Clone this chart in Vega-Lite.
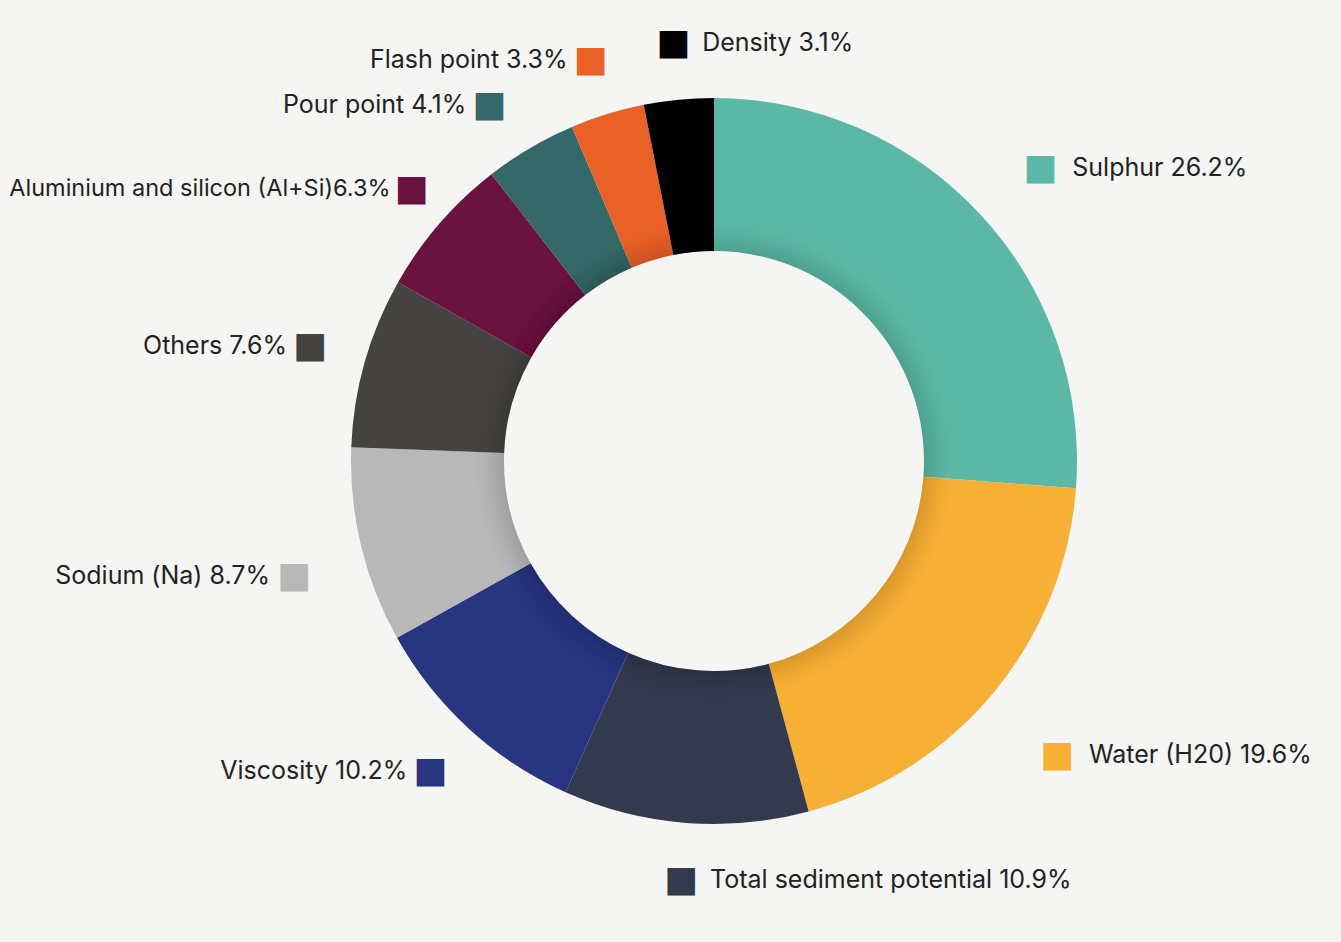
{
  "$schema": "https://vega.github.io/schema/vega-lite/v6.json",
  "width": 1254,
  "height": 922,
  "autosize": {"type": "none"},
  "padding": {"left": 87, "top": 0, "right": 0, "bottom": 20},
  "background": "#f5f5f3",
  "config": {"view": {"stroke": null}},
  "data": {"values": [
    {"name": "Sulphur", "value": 26.2, "label": "Sulphur 26.2%"},
    {"name": "Water (H20)", "value": 19.6, "label": "Water (H20) 19.6%"},
    {"name": "Total sediment potential", "value": 10.9, "label": "Total sediment potential 10.9%"},
    {"name": "Viscosity", "value": 10.2, "label": "Viscosity 10.2%"},
    {"name": "Sodium (Na)", "value": 8.7, "label": "Sodium (Na) 8.7%"},
    {"name": "Others", "value": 7.6, "label": "Others 7.6%"},
    {"name": "Aluminium and silicon (Al+Si)", "value": 6.3, "label": "Aluminium and silicon (Al+Si)6.3%"},
    {"name": "Pour point", "value": 4.1, "label": "Pour point 4.1%"},
    {"name": "Flash point", "value": 3.3, "label": "Flash point 3.3%"},
    {"name": "Density", "value": 3.1, "label": "Density 3.1%"}
  ]},
  "transform": [
    {"stack": "value", "groupby": [], "sort": [{"field": "value", "order": "descending"}], "as": ["v0", "v1"]},
    {"calculate": "(datum.v0 + datum.v1) / 2", "as": "vmid"}
  ],
  "layer": [
    {
      "mark": {"type": "arc", "innerRadius": 210, "outerRadius": 363},
      "encoding": {
        "theta": {"field": "v0", "type": "quantitative", "scale": {"domain": [0, 100]}},
        "theta2": {"field": "v1"},
        "color": {
          "field": "name", "type": "nominal", "legend": null,
          "scale": {
            "domain": ["Sulphur", "Water (H20)", "Total sediment potential", "Viscosity", "Sodium (Na)", "Others", "Aluminium and silicon (Al+Si)", "Pour point", "Flash point", "Density"],
            "range": ["#5cb8a6", "#f6b035", "#333a4d", "#283580", "#b8b8b8", "#454341", "#6a1240", "#346768", "#e96126", "#000000"]
          }
        }
      }
    },
    {"mark": {"type": "arc", "innerRadius": 210, "outerRadius": 238, "color": "#000000", "opacity": 0.008}, "encoding": {"theta": {"field": "v0", "type": "quantitative", "scale": {"domain": [0, 100]}}, "theta2": {"field": "v1"}}},
    {"mark": {"type": "arc", "innerRadius": 210, "outerRadius": 233, "color": "#000000", "opacity": 0.01}, "encoding": {"theta": {"field": "v0", "type": "quantitative", "scale": {"domain": [0, 100]}}, "theta2": {"field": "v1"}}},
    {"mark": {"type": "arc", "innerRadius": 210, "outerRadius": 229, "color": "#000000", "opacity": 0.012}, "encoding": {"theta": {"field": "v0", "type": "quantitative", "scale": {"domain": [0, 100]}}, "theta2": {"field": "v1"}}},
    {"mark": {"type": "arc", "innerRadius": 210, "outerRadius": 225, "color": "#000000", "opacity": 0.015}, "encoding": {"theta": {"field": "v0", "type": "quantitative", "scale": {"domain": [0, 100]}}, "theta2": {"field": "v1"}}},
    {"mark": {"type": "arc", "innerRadius": 210, "outerRadius": 221, "color": "#000000", "opacity": 0.018}, "encoding": {"theta": {"field": "v0", "type": "quantitative", "scale": {"domain": [0, 100]}}, "theta2": {"field": "v1"}}},
    {"mark": {"type": "arc", "innerRadius": 210, "outerRadius": 217, "color": "#000000", "opacity": 0.022}, "encoding": {"theta": {"field": "v0", "type": "quantitative", "scale": {"domain": [0, 100]}}, "theta2": {"field": "v1"}}},
    {"mark": {"type": "arc", "innerRadius": 210, "outerRadius": 213, "color": "#000000", "opacity": 0.025}, "encoding": {"theta": {"field": "v0", "type": "quantitative", "scale": {"domain": [0, 100]}}, "theta2": {"field": "v1"}}},

    {
      "transform": [{"filter": {"field": "name", "oneOf": ["Sulphur", "Water (H20)"]}}],
      "mark": {"type": "text", "radius": 445, "dy": 10, "font": "DejaVu Sans", "fontSize": 36, "align": "center", "baseline": "middle"},
      "encoding": {"theta": {"field": "vmid", "type": "quantitative", "stack": null, "scale": {"domain": [0, 100]}}, "text": {"value": "■"}, "color": {"field": "name", "type": "nominal", "legend": null}}
    },
    {
      "transform": [{"filter": {"field": "name", "oneOf": ["Sulphur", "Water (H20)"]}}],
      "mark": {"type": "text", "radius": 445, "dy": 10, "dx": 32, "font": "Inter", "fontSize": 25, "align": "left", "baseline": "middle", "color": "#222222"},
      "encoding": {"theta": {"field": "vmid", "type": "quantitative", "stack": null, "scale": {"domain": [0, 100]}}, "text": {"field": "label"}}
    },

    {
      "transform": [{"filter": {"field": "name", "oneOf": ["Total sediment potential", "Density", "Viscosity", "Others", "Flash point"]}}],
      "mark": {"type": "text", "radius": 420, "font": "DejaVu Sans", "fontSize": 36, "align": "center", "baseline": "middle"},
      "encoding": {"theta": {"field": "vmid", "type": "quantitative", "stack": null, "scale": {"domain": [0, 100]}}, "text": {"value": "■"}, "color": {"field": "name", "type": "nominal", "legend": null}}
    },
    {
      "transform": [{"filter": {"field": "name", "oneOf": ["Total sediment potential", "Density"]}}],
      "mark": {"type": "text", "radius": 420, "dx": 29, "font": "Inter", "fontSize": 25, "align": "left", "baseline": "middle", "color": "#222222"},
      "encoding": {"theta": {"field": "vmid", "type": "quantitative", "stack": null, "scale": {"domain": [0, 100]}}, "text": {"field": "label"}}
    },
    {
      "transform": [{"filter": {"field": "name", "oneOf": ["Viscosity", "Others", "Flash point"]}}],
      "mark": {"type": "text", "radius": 420, "dx": -23, "font": "Inter", "fontSize": 25, "align": "right", "baseline": "middle", "color": "#222222"},
      "encoding": {"theta": {"field": "vmid", "type": "quantitative", "stack": null, "scale": {"domain": [0, 100]}}, "text": {"field": "label"}}
    },

    {
      "transform": [{"filter": {"field": "name", "equal": "Sodium (Na)"}}],
      "mark": {"type": "text", "radius": 432, "dy": 14, "font": "DejaVu Sans", "fontSize": 36, "align": "center", "baseline": "middle"},
      "encoding": {"theta": {"field": "vmid", "type": "quantitative", "stack": null, "scale": {"domain": [0, 100]}}, "text": {"value": "■"}, "color": {"field": "name", "type": "nominal", "legend": null}}
    },
    {
      "transform": [{"filter": {"field": "name", "equal": "Sodium (Na)"}}],
      "mark": {"type": "text", "radius": 432, "dy": 14, "dx": -24, "font": "Inter", "fontSize": 25, "align": "right", "baseline": "middle", "color": "#222222"},
      "encoding": {"theta": {"field": "vmid", "type": "quantitative", "stack": null, "scale": {"domain": [0, 100]}}, "text": {"field": "label"}}
    },

    {
      "transform": [{"filter": {"field": "name", "equal": "Aluminium and silicon (Al+Si)"}}],
      "mark": {"type": "text", "radius": 400, "dy": -10, "font": "DejaVu Sans", "fontSize": 36, "align": "center", "baseline": "middle"},
      "encoding": {"theta": {"field": "vmid", "type": "quantitative", "stack": null, "scale": {"domain": [0, 100]}}, "text": {"value": "■"}, "color": {"field": "name", "type": "nominal", "legend": null}}
    },
    {
      "transform": [{"filter": {"field": "name", "equal": "Aluminium and silicon (Al+Si)"}}],
      "mark": {"type": "text", "radius": 400, "dy": -10, "dx": -21, "font": "Inter", "fontSize": 23.5, "align": "right", "baseline": "middle", "color": "#222222"},
      "encoding": {"theta": {"field": "vmid", "type": "quantitative", "stack": null, "scale": {"domain": [0, 100]}}, "text": {"field": "label"}}
    },

    {
      "transform": [{"filter": {"field": "name", "equal": "Pour point"}}],
      "mark": {"type": "text", "radius": 420, "dx": -12, "dy": 6, "font": "DejaVu Sans", "fontSize": 36, "align": "center", "baseline": "middle"},
      "encoding": {"theta": {"field": "vmid", "type": "quantitative", "stack": null, "scale": {"domain": [0, 100]}}, "text": {"value": "■"}, "color": {"field": "name", "type": "nominal", "legend": null}}
    },
    {
      "transform": [{"filter": {"field": "name", "equal": "Pour point"}}],
      "mark": {"type": "text", "radius": 420, "dx": -35, "dy": 6, "font": "Inter", "fontSize": 25, "align": "right", "baseline": "middle", "color": "#222222"},
      "encoding": {"theta": {"field": "vmid", "type": "quantitative", "stack": null, "scale": {"domain": [0, 100]}}, "text": {"field": "label"}}
    }
  ]
}
